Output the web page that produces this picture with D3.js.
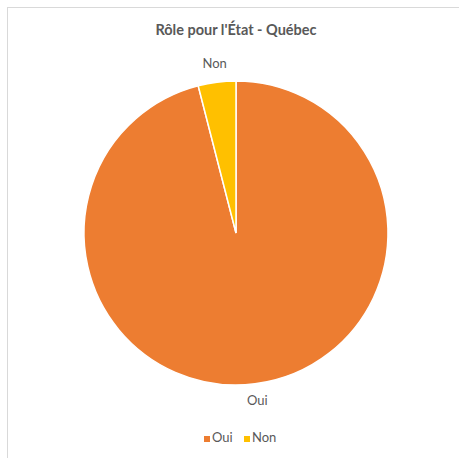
<!DOCTYPE html>
<html>
<head>
<meta charset="utf-8">
<script src="https://cdn.jsdelivr.net/npm/d3@7"></script>
<style>
  html, body { margin: 0; padding: 0; background: #fff; }
  svg { display: block; }
</style>
</head>
<body>
<svg id="chart" width="459" height="458"></svg>
<script>
const categories = ["Oui", "Non"];
const values = [96, 4];
const colors = ["#ED7D31", "#FFC000"];
const title = "Rôle pour l'État - Québec";

const svg = d3.select("#chart");
const W = 459, H = 458;
const font = "Lato, 'Open Sans', sans-serif";

// frame
svg.append("rect")
  .attr("x", 7.5).attr("y", 7.5)
  .attr("width", W + 10).attr("height", H - 4)
  .attr("fill", "#fff").attr("stroke", "#d9d9d9").attr("stroke-width", 1);

svg.append("text")
  .attr("x", 236).attr("y", 35)
  .attr("text-anchor", "middle")
  .attr("font-family", font)
  .attr("font-size", 14.5)
  .attr("font-weight", "bold")
  .attr("fill", "#595959")
  .text(title);

const cx = 236, cy = 233, r = 152;
const data = categories.map((c, i) => ({ cat: c, value: values[i], color: colors[i] }));
const pie = d3.pie().sort(null).value(d => d.value);
const arcs = pie(data);
const arc = d3.arc().innerRadius(0).outerRadius(r);
const labelArc = d3.arc().innerRadius(170).outerRadius(170);

const g = svg.append("g").attr("transform", `translate(${cx},${cy})`);
g.selectAll("path").data(arcs).join("path")
  .attr("d", arc)
  .attr("fill", d => d.data.color)
  .attr("stroke", "#fff")
  .attr("stroke-width", 1.5);

g.selectAll("text.lbl").data(arcs).join("text")
  .attr("class", "lbl")
  .attr("transform", d => `translate(${labelArc.centroid(d)})`)
  .attr("text-anchor", "middle")
  .attr("dominant-baseline", "middle")
  .attr("font-family", font)
  .attr("font-size", 13)
  .attr("fill", "#595959")
  .text(d => d.data.cat);

// legend
const legend = svg.append("g");
const legendX = [204, 244];
data.forEach((d, i) => {
  legend.append("rect")
    .attr("x", legendX[i]).attr("y", 436)
    .attr("width", 6).attr("height", 6)
    .attr("fill", d.color);
  legend.append("text")
    .attr("x", legendX[i] + 8).attr("y", 439)
    .attr("dominant-baseline", "middle")
    .attr("font-family", font)
    .attr("font-size", 13)
    .attr("fill", "#595959")
    .text(d.cat);
});
</script>
</body>
</html>
